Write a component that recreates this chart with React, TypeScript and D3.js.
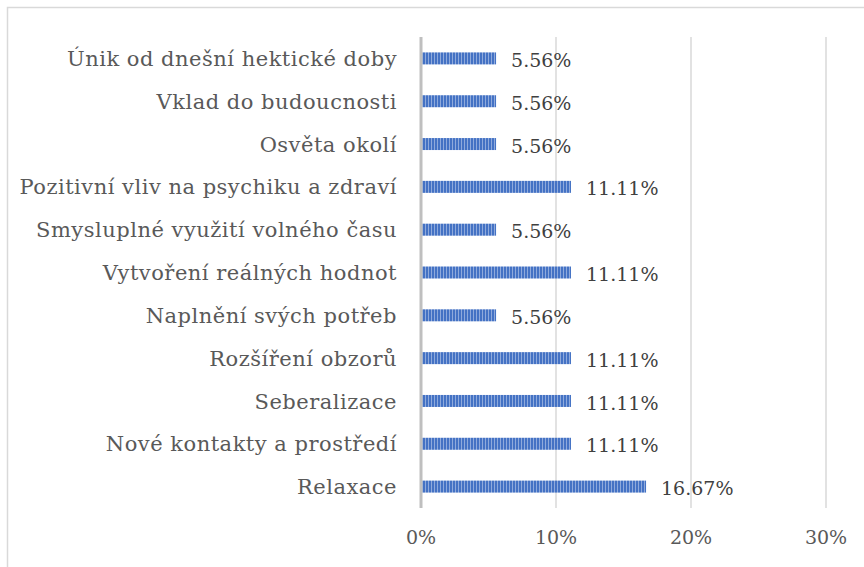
import React from "react";
import * as d3 from "d3";

const categories = [
  "Únik od dnešní hektické doby",
  "Vklad do budoucnosti",
  "Osvěta okolí",
  "Pozitivní vliv na psychiku a zdraví",
  "Smysluplné využití volného času",
  "Vytvoření reálných hodnot",
  "Naplnění svých potřeb",
  "Rozšíření obzorů",
  "Seberalizace",
  "Nové kontakty a prostředí",
  "Relaxace",
];
const values = [5.56, 5.56, 5.56, 11.11, 5.56, 11.11, 5.56, 11.11, 11.11, 11.11, 16.67];
const ticks = [0, 10, 20, 30];

const W = 864;
const H = 567;
const left = 421;
const right = 826;
const top = 37;
const bottom = 508;
const FONT = "'DejaVu Serif', serif";

export default function App() {
  const x = d3.scaleLinear().domain([0, 30]).range([left, right]);
  const y = d3.scaleBand().domain(categories).range([top, bottom]).paddingInner(0.72).paddingOuter(0.36);
  return (
    <svg width={W} height={H} style={{ position: "absolute", left: 0, top: 0, background: "#fff" }}>
      <defs>
        <pattern id="stripes" patternUnits="userSpaceOnUse" width={3} height={10}>
          <rect width={3} height={10} fill="#8FAADC" />
          <rect width={2} height={10} fill="#4472C4" />
        </pattern>
      </defs>
      <rect x={7.5} y={7.5} width={W} height={H} fill="none" stroke="#D9D9D9" strokeWidth={1.5} />
      {ticks.map((t) => (
        <line key={t} x1={x(t)} x2={x(t)} y1={top} y2={bottom} stroke="#D9D9D9" strokeWidth={1.5} />
      ))}
      {categories.map((c, i) => {
        const by = y(c)!;
        const bh = y.bandwidth();
        return (
          <g key={c}>
            <rect x={x(0)} y={by} width={x(values[i]) - x(0)} height={bh} fill="url(#stripes)" />
            <text x={397} y={by + bh / 2} dy="0.36em" textAnchor="end" fontFamily={FONT} fontSize={21} letterSpacing={0.5} fill="#595959">
              {c}
            </text>
            <text x={x(values[i]) + 15} y={by + bh / 2} dy="0.45em" fontFamily={FONT} fontSize={19} fill="#404040">
              {values[i].toFixed(2) + "%"}
            </text>
          </g>
        );
      })}
      <line x1={x(0)} x2={x(0)} y1={top} y2={bottom} stroke="#BFBFBF" strokeWidth={3} />
      {ticks.map((t) => (
        <text key={"l" + t} x={x(t)} y={544} textAnchor="middle" fontFamily={FONT} fontSize={19} fill="#595959">
          {t + "%"}
        </text>
      ))}
    </svg>
  );
}
